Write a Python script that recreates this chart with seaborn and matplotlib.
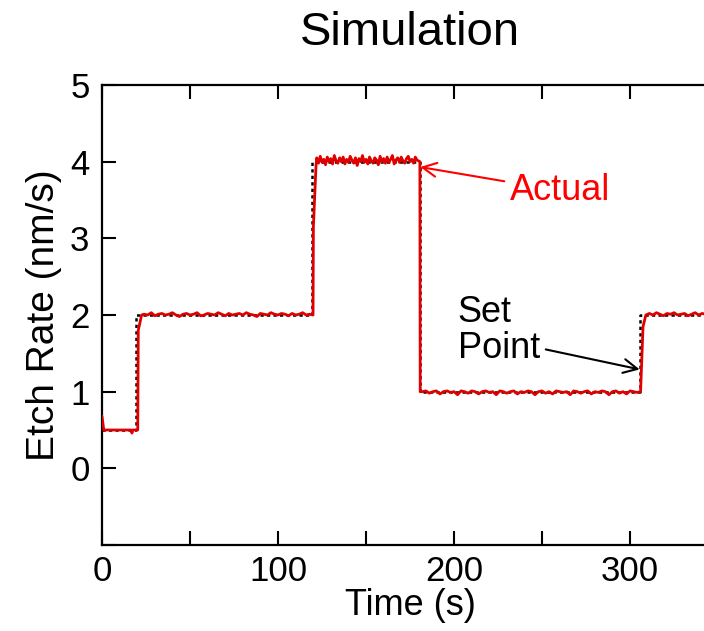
#Etch rate simulation: set point vs actual response
import matplotlib
matplotlib.use("Agg")
import matplotlib.pyplot as plt
from matplotlib.ticker import MultipleLocator, FixedLocator, FuncFormatter
import numpy as np
import pandas as pd
import seaborn as sns

# set point steps (time in s, rate in nm/s)
set_t = [0, 19.5, 19.5, 119.3, 119.3, 180.5, 180.5, 305.8, 305.8, 350]
set_v = [0.5, 0.5, 2.0, 2.0, 4.0, 4.0, 1.0, 1.0, 2.0, 2.0]

# actual response
start_t = [0, 1, 16.5, 17, 17.5, 20.3, 20.6, 22.5]
start_v = [0.68, 0.5, 0.5, 0.46, 0.5, 0.5, 1.8, 2.0]

level2a_v = [2.01, 2.0, 2.03, 1.99, 2.01, 2.02, 2.0, 2.01, 2.03, 2.0,
             1.98, 2.01, 2.02, 2.0, 2.01, 2.03, 1.99, 2.0, 2.02, 2.01,
             2.0, 2.03, 2.01, 1.99, 2.02, 2.0, 2.01, 2.02, 2.0, 2.03,
             2.01, 2.0, 1.98, 2.02, 2.01, 2.0, 2.03, 2.01, 2.0, 2.02,
             2.01, 1.99, 2.02, 2.0, 2.01, 2.03, 2.0, 2.01]

rise4_t = [119.9, 120.1, 121.6]
rise4_v = [2.0, 3.15, 3.95]

level4_v = [4.05, 3.98, 4.07, 3.99, 4.03, 3.96, 4.06, 4.0, 4.04, 3.97,
            4.08, 4.01, 3.98, 4.05, 4.0, 4.06, 3.97, 4.03, 3.99, 4.07,
            4.02, 3.98, 4.05, 3.95, 4.04, 4.0, 4.08, 3.99, 4.03, 3.97,
            4.06, 4.01, 3.98, 4.05, 4.02, 3.96, 4.07, 4.0, 4.04, 3.98,
            4.06, 3.99, 4.03, 4.08, 3.97, 4.02, 4.05, 3.99, 4.06, 4.01,
            3.98, 4.04, 4.07, 4.0, 4.03, 3.98, 4.06, 4.02]

drop_t = [180.6, 180.8]
drop_v = [4.0, 1.0]

level1_v = [1.0, 1.01, 0.98, 1.0, 1.01, 0.97, 1.0, 1.01, 0.99, 1.0,
            0.96, 1.01, 1.0, 0.98, 1.01, 1.0, 0.97, 1.0, 1.01, 0.99,
            1.0, 0.96, 1.01, 1.0, 0.98, 1.0, 1.01, 0.97, 1.0, 0.99,
            1.01, 1.0, 0.96, 1.0, 1.01, 0.98, 1.0, 0.97, 1.01, 1.0,
            0.99, 1.0, 0.96, 1.01, 1.0, 0.98, 1.0, 1.01, 0.97, 1.0,
            0.99, 1.01, 1.0, 0.96, 1.0, 1.01, 0.98, 1.0, 0.97, 1.01,
            1.0, 0.99]

rise2_t = [306.0, 307.4, 309.0]
rise2_v = [1.0, 1.85, 2.0]

level2b_v = [2.02, 2.0, 2.03, 2.01, 1.99, 2.02, 2.01, 2.03, 2.0, 2.01,
             2.02, 1.99, 2.01, 2.03, 2.0, 2.02, 2.01, 2.0]

act_t = np.concatenate([start_t, np.arange(24, 120, 2), rise4_t,
                        np.arange(122, 180, 1), drop_t,
                        np.arange(182, 306, 2), rise2_t,
                        np.arange(311, 347, 2)])
act_v = np.concatenate([start_v, level2a_v, rise4_v, level4_v, drop_v,
                        level1_v, rise2_v, level2b_v])

setpoint = pd.DataFrame({"t": set_t, "rate": set_v})
actual = pd.DataFrame({"t": act_t, "rate": act_v})

sns.set_style("ticks")
plt.rcParams["font.family"] = ["Liberation Sans", "DejaVu Sans"]
plt.rcParams.update({"text.color": "black", "axes.labelcolor": "black",
                     "xtick.color": "black", "ytick.color": "black",
                     "axes.edgecolor": "black"})

fig = plt.figure(figsize=(7.04, 6.31), dpi=100)
ax = fig.add_axes([0.1449, 0.1363, 0.875, 0.729])

sns.lineplot(data=setpoint, x="t", y="rate", ax=ax, sort=False, estimator=None,
             color="black", lw=1.8, linestyle=(0, (1.3, 1.3)), zorder=2)
sns.lineplot(data=actual, x="t", y="rate", ax=ax, sort=False, estimator=None,
             color="#e00000", lw=2.0, zorder=3)

ax.set_xlim(0, 350)
ax.set_ylim(-1, 5)
ax.xaxis.set_major_locator(MultipleLocator(100))
ax.xaxis.set_minor_locator(MultipleLocator(50))
ax.yaxis.set_major_locator(FixedLocator([-1, 0, 1, 2, 3, 4, 5]))
ax.yaxis.set_major_formatter(FuncFormatter(lambda v, p: "" if v < 0 else f"{v:.0f}"))

ax.tick_params(which="both", direction="in", length=10, width=1.5,
               top=True, right=True, labelsize=25)
ax.tick_params(axis="x", pad=7)
ax.tick_params(axis="y", pad=9)
for s in ax.spines.values():
    s.set_linewidth(1.6)

ax.set_xlabel("Time (s)", fontsize=26, labelpad=0)
ax.set_ylabel("Etch Rate (nm/s)", fontsize=28, labelpad=6)
ax.set_title("Simulation", fontsize=34, pad=29)

ax.annotate("Actual", xy=(180.8, 3.93), xytext=(232, 3.62),
            color="red", fontsize=26, va="center", ha="left",
            arrowprops=dict(arrowstyle="->", color="red", lw=1.5,
                            mutation_scale=25, shrinkA=2, shrinkB=0))
ax.annotate("Set\nPoint", xy=(305.5, 1.29), xytext=(202, 1.8),
            color="black", fontsize=26, va="center", ha="left",
            linespacing=1.05,
            arrowprops=dict(arrowstyle="->", color="black", lw=1.5,
                            mutation_scale=25, shrinkA=2, shrinkB=0,
                            relpos=(1.0, 0.25)))

fig.savefig("out.png", dpi=100)
